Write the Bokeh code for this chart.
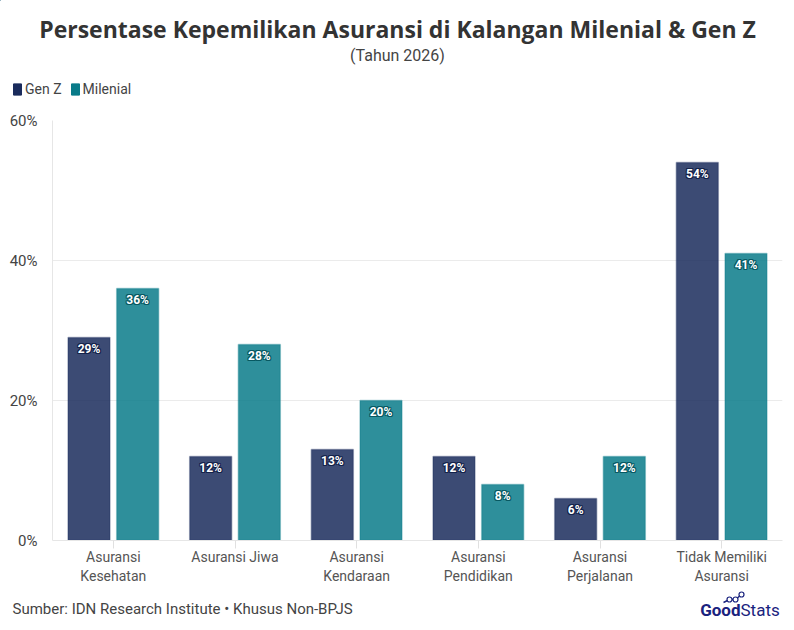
from bokeh.plotting import figure
from bokeh.layouts import column
from bokeh.models import (ColumnDataSource, FactorRange, Range1d, Label, Legend, LegendItem,
                          PrintfTickFormatter, FixedTicker)
from bokeh.transform import dodge
from bokeh.core.properties import value
from bokeh.embed import file_html
from bokeh.resources import INLINE

categories = ["Asuransi\nKesehatan", "Asuransi Jiwa", "Asuransi\nKendaraan",
              "Asuransi\nPendidikan", "Asuransi\nPerjalanan", "Tidak Memiliki\nAsuransi"]
gen_z = [29, 12, 13, 12, 6, 54]
milenial = [36, 28, 20, 8, 12, 41]
y_ticks = [0, 20, 40, 60]
series_names = ["Gen Z", "Milenial"]

FONT = "Roboto"
C_GENZ = "#1a2b5c"
C_MIL = "#097b89"
W = 794


def blank(height):
    f = figure(width=W, height=height, x_range=Range1d(0, W), y_range=Range1d(height, 0),
               x_axis_type=None, y_axis_type=None, output_backend="svg", toolbar_location=None,
               min_border=0)
    f.outline_line_color = None
    f.grid.visible = False
    f.frame_align = False
    return f


# ---------------- header ----------------
head = blank(100)
head.add_layout(Label(x=W / 2, y=28, text="Persentase Kepemilikan Asuransi di Kalangan Milenial & Gen Z",
                      text_align="center", text_baseline="middle",
                      text_font="Open Sans", text_font_style="bold", text_font_size="23px",
                      text_color="#333333"))
head.add_layout(Label(x=W / 2, y=55, text="(Tahun 2026)", text_align="center", text_baseline="middle",
                      text_font=FONT, text_font_size="16px", text_color="#444444"))
offscreen = ColumnDataSource(dict(x=[-1000], top=[-1000]))
lg1 = head.vbar(x="x", top="top", width=1, source=offscreen, fill_color=C_GENZ, line_color=C_GENZ)
lg2 = head.vbar(x="x", top="top", width=1, source=offscreen, fill_color=C_MIL, line_color=C_MIL)
legend = Legend(items=[LegendItem(label=series_names[0], renderers=[lg1]),
                       LegendItem(label=series_names[1], renderers=[lg2])],
                orientation="horizontal", location=(12, 3),
                border_line_color=None, background_fill_alpha=0,
                padding=0, margin=0, spacing=8, label_standoff=3,
                glyph_width=10, glyph_height=14,
                label_text_font=FONT, label_text_font_size="14px", label_text_color="#444444")
head.add_layout(legend, "center")

# ---------------- main chart ----------------
src = ColumnDataSource(dict(
    cat=categories, genz=gen_z, mil=milenial,
    genz_lbl=[f"{v}%" for v in gen_z], mil_lbl=[f"{v}%" for v in milenial],
))

p = figure(width=W, height=490, x_range=FactorRange(*categories), y_range=(0, 60),
           output_backend="svg", toolbar_location=None,
           min_border_left=52, min_border_right=12, min_border_top=20, min_border_bottom=50)
p.outline_line_color = None
p.xgrid.grid_line_color = None
p.ygrid.grid_line_color = "#ebebeb"
p.ygrid.ticker = FixedTicker(ticks=y_ticks)

p.vbar(x=dodge("cat", -0.2, range=p.x_range), top="genz", width=0.345, source=src,
       fill_color=C_GENZ, fill_alpha=0.85, line_color=C_GENZ, line_alpha=0.35, line_width=1.5)
p.vbar(x=dodge("cat", 0.2, range=p.x_range), top="mil", width=0.345, source=src,
       fill_color=C_MIL, fill_alpha=0.85, line_color=C_MIL, line_alpha=0.35, line_width=1.5)

offsets = [(-1, -1), (0, -1), (1, -1), (-1, 0), (1, 0), (-1, 1), (0, 1), (1, 1)]
for dx, col, halo in [(-0.2, "genz", "#14224a"), (0.2, "mil", "#075862")]:
    for ox, oy in offsets:
        p.text(x=dodge("cat", dx, range=p.x_range), y=col, text=col + "_lbl", source=src,
               text_align="center", text_baseline="top", x_offset=ox, y_offset=4 + oy,
               text_font=value(FONT), text_font_style="bold", text_font_size="12px",
               text_color=halo)
    p.text(x=dodge("cat", dx, range=p.x_range), y=col, text=col + "_lbl", source=src,
           text_align="center", text_baseline="top", y_offset=4,
           text_font=value(FONT), text_font_style="bold", text_font_size="12px",
           text_color="white")

p.yaxis.ticker = FixedTicker(ticks=y_ticks)
p.yaxis.formatter = PrintfTickFormatter(format="%d%%")
p.yaxis.axis_line_color = "#e6e6e6"
p.yaxis.major_tick_line_color = None
p.yaxis.minor_tick_line_color = None
p.yaxis.major_label_text_font = FONT
p.yaxis.major_label_text_font_size = "15px"
p.yaxis.major_label_text_color = "#444444"
p.yaxis.major_label_standoff = 9

p.xaxis.axis_line_color = "#e6e6e6"
p.xaxis.major_tick_line_color = "#e0e0e0"
p.xaxis.major_tick_in = 0
p.xaxis.major_tick_out = 8
p.xaxis.major_label_text_font = FONT
p.xaxis.major_label_text_font_size = "14px"
p.xaxis.major_label_text_color = "#555555"
p.xaxis.major_label_standoff = 0
p.x_range.range_padding = 0

# ---------------- footer ----------------
foot = blank(40)
foot.add_layout(Label(x=12, y=18, text="Sumber: IDN Research Institute \u2022 Khusus Non-BPJS",
                      text_align="left", text_baseline="middle",
                      text_font=FONT, text_font_size="15px", text_color="#444444"))
foot.add_layout(Label(x=740, y=19, text="Good", text_align="right", text_baseline="middle",
                      text_font=FONT, text_font_style="bold", text_font_size="17px", text_color="#1a237e"))
foot.add_layout(Label(x=740, y=19, text="Stats", text_align="left", text_baseline="middle",
                      text_font=FONT, text_font_size="17px", text_color="#1a237e"))
# small logo icon (decorative)
icon_x = [723, 729, 735, 741]
icon_y = [12, 9, 9, 4]
foot.line(icon_x, icon_y, line_color="#1a237e", line_width=1.5)
foot.scatter(icon_x[1:], icon_y[1:], size=5, fill_color="white", line_color="#1a237e", line_width=1.2)

layout = column(head, p, foot, spacing=0)
open("out.html", "w").write(file_html(layout, INLINE))
